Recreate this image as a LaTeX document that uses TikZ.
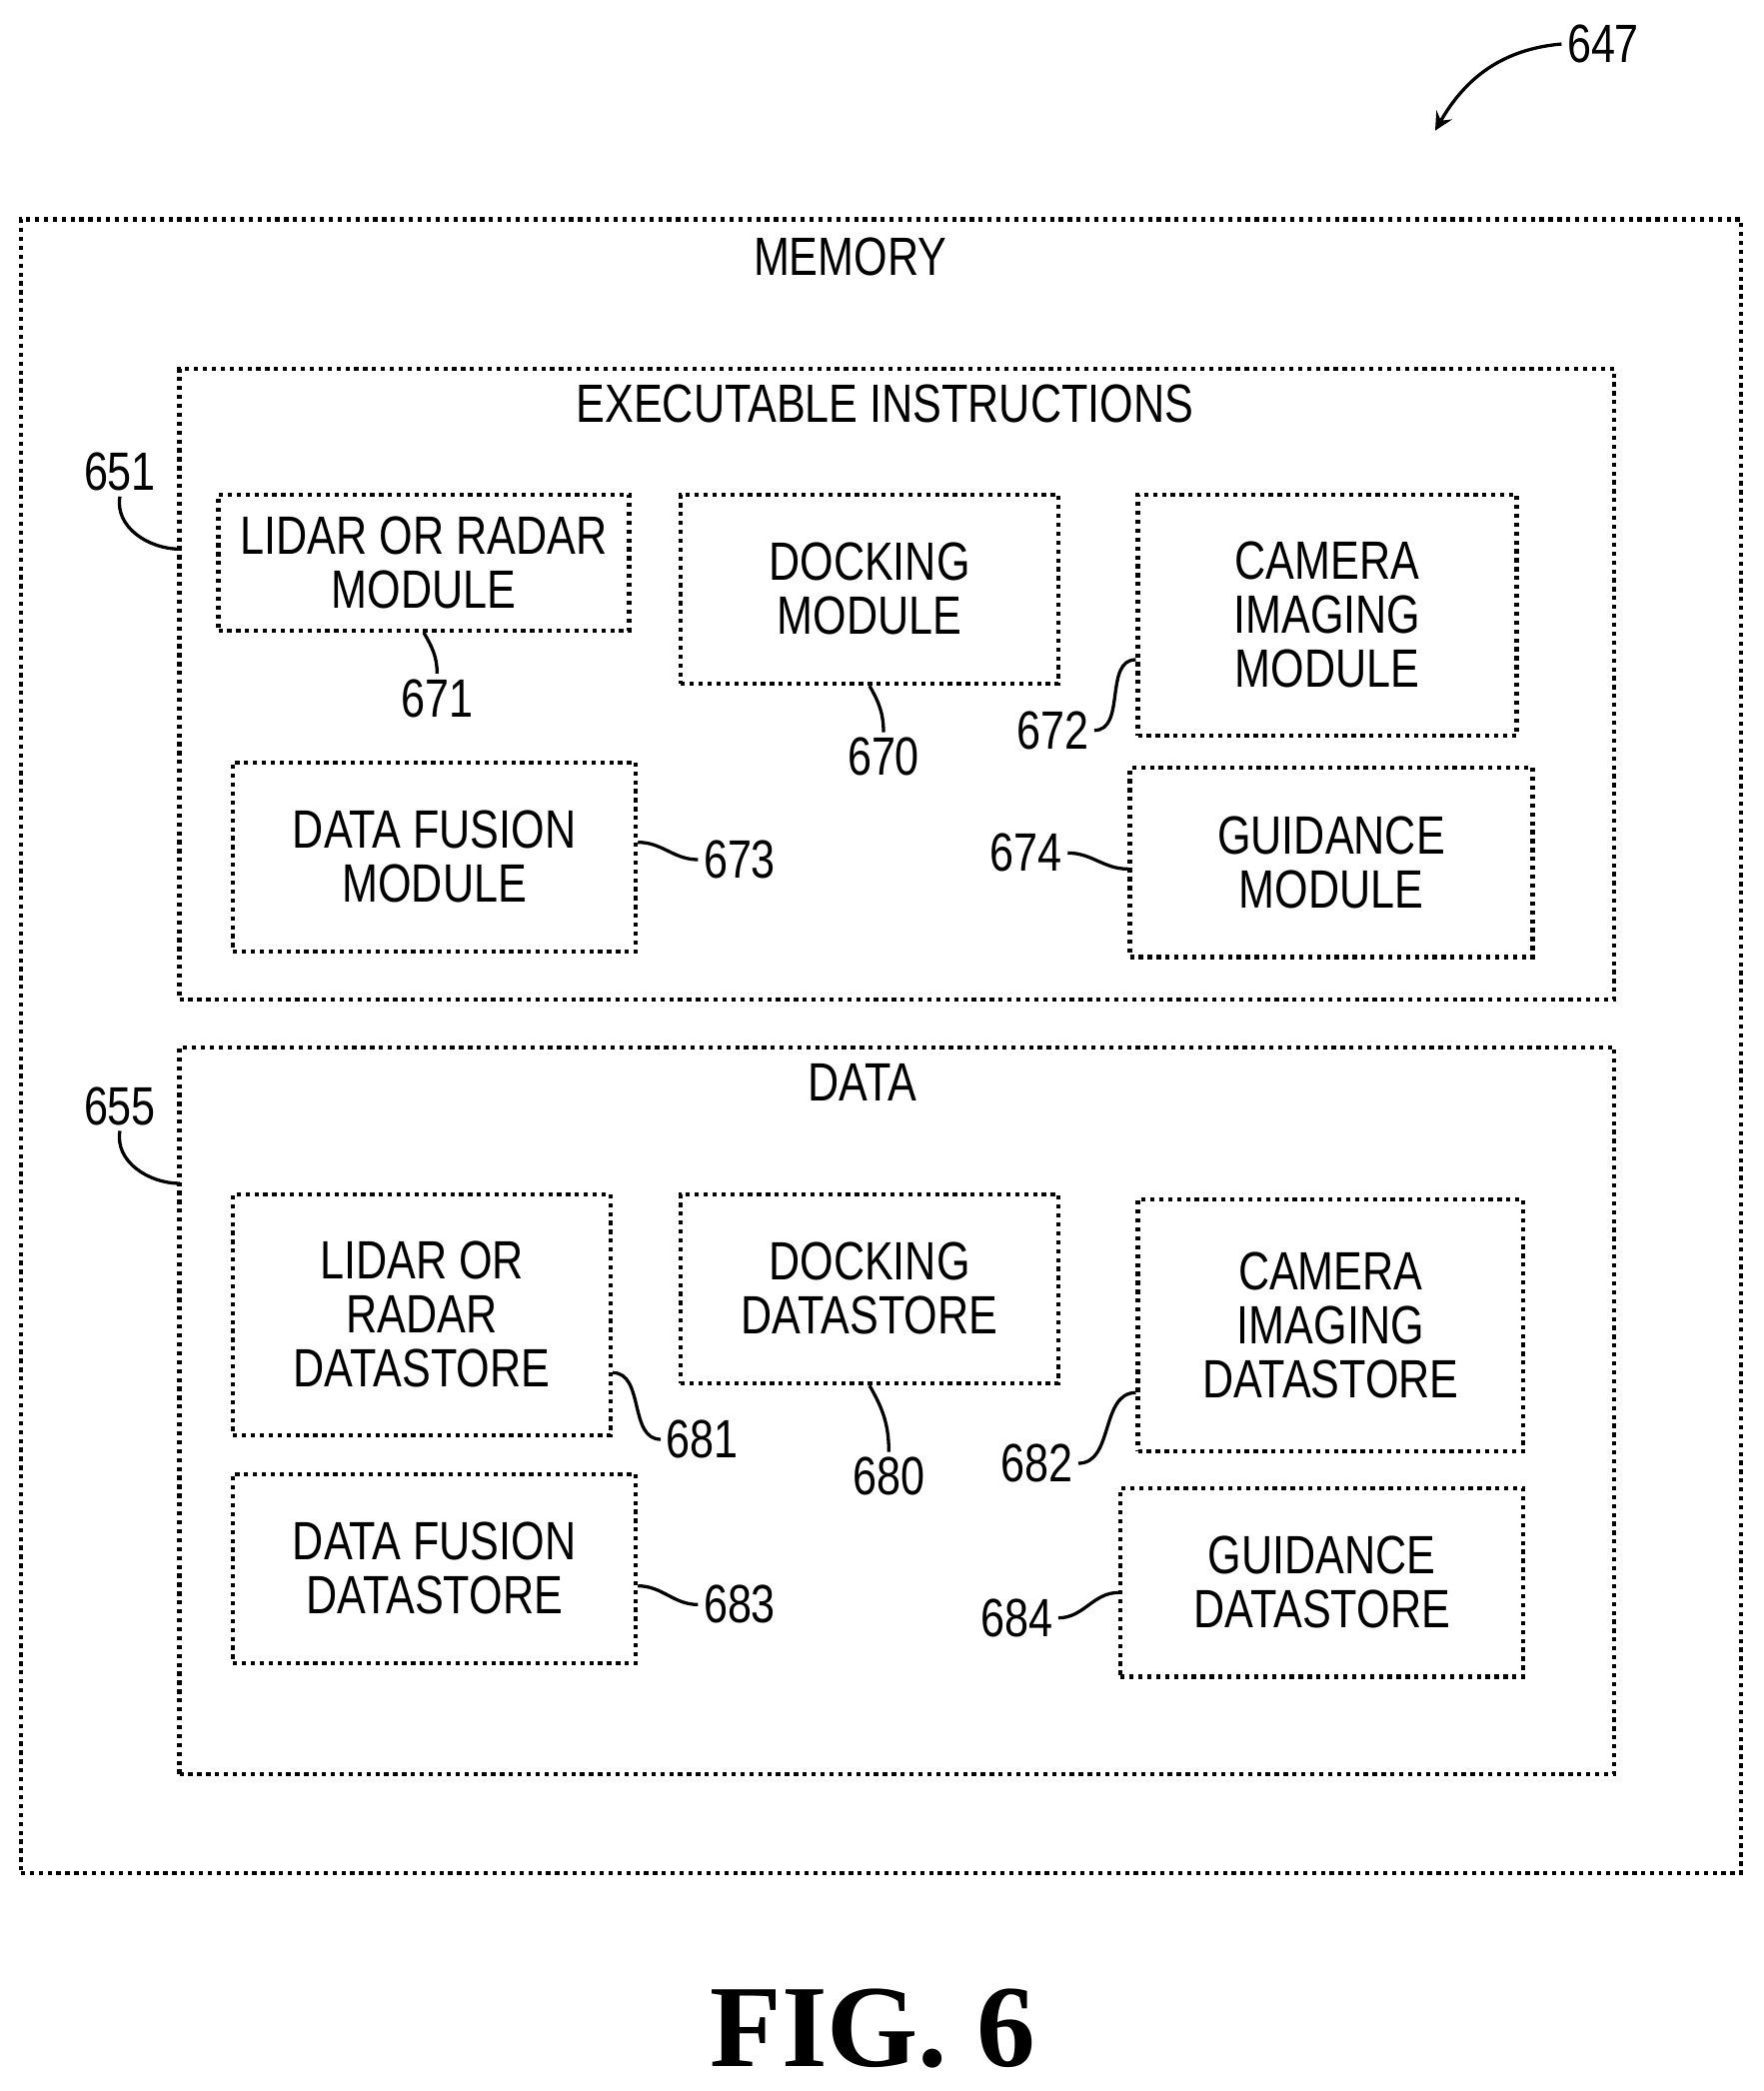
\documentclass[tikz,border=0pt]{standalone}
\usepackage{fontspec}
\setmainfont{Liberation Sans}
\newfontfamily\narrowsans{Liberation Sans}[FakeStretch=0.8]
\newfontfamily\figserif{Liberation Serif}
\usetikzlibrary{positioning}
\tikzset{
  box/.style={draw, densely dotted, line width=0.9pt, align=center, inner sep=2pt,
    font=\narrowsans\fontsize{11.5}{11.5}\selectfont},
  frame/.style={draw, densely dotted, line width=0.9pt},
  num/.style={font=\narrowsans\fontsize{11.5}{12}\selectfont, inner sep=1pt},
  lead/.style={line width=0.7pt},
  title/.style={font=\narrowsans\fontsize{11.5}{12}\selectfont}
}
\begin{document}
\begin{tikzpicture}[x=0.01cm,y=-0.01cm]
\useasboundingbox (0,0) rectangle (1323,1569);

%frames
\node (memory) [frame, minimum width=12.9cm, minimum height=12.4cm] at (661,785) {};
\node (exec) [frame, minimum width=10.76cm, minimum height=4.73cm] at (673,513.5) {};
\node (data) [frame, minimum width=10.76cm, minimum height=5.45cm] at (673,1058.5) {};
\node (memlabel) [title] at (638,193) {MEMORY};
\node (execlabel) [title] at (664,303) {EXECUTABLE INSTRUCTIONS};
\node (datalabel) [title] at (647,812) {DATA};

%modules
\node (lidarmod) [box, minimum width=3.08cm, minimum height=1.02cm] at (318,422) {LIDAR OR RADAR\\MODULE};
\node (dockmod) [box, minimum width=2.83cm, minimum height=1.42cm] at (652.5,442) {DOCKING\\MODULE};
\node (cammod) [box, minimum width=2.84cm, minimum height=1.81cm] at (996,461.5) {CAMERA\\IMAGING\\MODULE};
\node (fusmod) [box, minimum width=3.02cm, minimum height=1.42cm] at (326,643) {DATA FUSION\\MODULE};
\node (guidmod) [box, minimum width=3.02cm, minimum height=1.42cm] at (999,647) {GUIDANCE\\MODULE};

%datastores
\node (lidards) [box, minimum width=2.83cm, minimum height=1.81cm] at (316.5,986.5) {LIDAR OR\\RADAR\\DATASTORE};
\node (dockds) [box, minimum width=2.83cm, minimum height=1.42cm] at (652.5,967) {DOCKING\\DATASTORE};
\node (camds) [box, minimum width=2.89cm, minimum height=1.89cm] at (998.5,994.5) {CAMERA\\IMAGING\\DATASTORE};
\node (fusds) [box, minimum width=3.02cm, minimum height=1.42cm] at (326,1177) {DATA FUSION\\DATASTORE};
\node (guidds) [box, minimum width=3.02cm, minimum height=1.41cm] at (992,1187.5) {GUIDANCE\\DATASTORE};

%numbers
\node (n647) [num] at (1203,33) {647};
\node (n651) [num] at (90,354) {651};
\node (n655) [num] at (90,830) {655};
\node (n671) [num] at (328,524) {671};
\node (n670) [num] at (663,568) {670};
\node (n672) [num] at (790,548) {672};
\node (n673) [num] at (555,645) {673};
\node (n674) [num] at (770,640) {674};
\node (n681) [num] at (527,1080) {681};
\node (n680) [num] at (667,1108) {680};
\node (n682) [num] at (778,1098) {682};
\node (n683) [num] at (555,1204) {683};
\node (n684) [num] at (763,1214) {684};
\node (fig) [font=\figserif\bfseries\fontsize{25}{25}\selectfont] at (655,1522) {FIG. 6};
\coordinate (a647) at (1077,98);
\coordinate (e651) at (135,412);
\coordinate (e655) at (135,888);

%leaders
\draw [lead, ->, >=stealth] (n647.west) to[out=185,in=60] (a647);
\draw [lead] (n651.south) to[out=-100,in=180] (e651);
\draw [lead] (n655.south) to[out=-100,in=180] (e655);
\draw [lead] (lidarmod.south) to[out=-60,in=90] (n671.north);
\draw [lead] (dockmod.south) to[out=-60,in=90] (n670.north);
\draw [lead] (n672.east) to[out=0,in=180] (cammod.west |- 0,495);
\draw [lead] (fusmod.east |- 0,632) to[out=0,in=180] (n673.west);
\draw [lead] (n674.east) to[out=0,in=180] (guidmod.west |- 0,652);
\draw [lead] (lidards.east |- 0,1030) to[out=0,in=180] (n681.west);
\draw [lead] (dockds.south) to[out=-60,in=90] (n680.north);
\draw [lead] (n682.east) to[out=0,in=180] (camds.west |- 0,1045);
\draw [lead] (fusds.east |- 0,1190) to[out=0,in=180] (n683.west);
\draw [lead] (n684.east) to[out=0,in=180] (guidds.west |- 0,1195);
\end{tikzpicture}
\end{document}
